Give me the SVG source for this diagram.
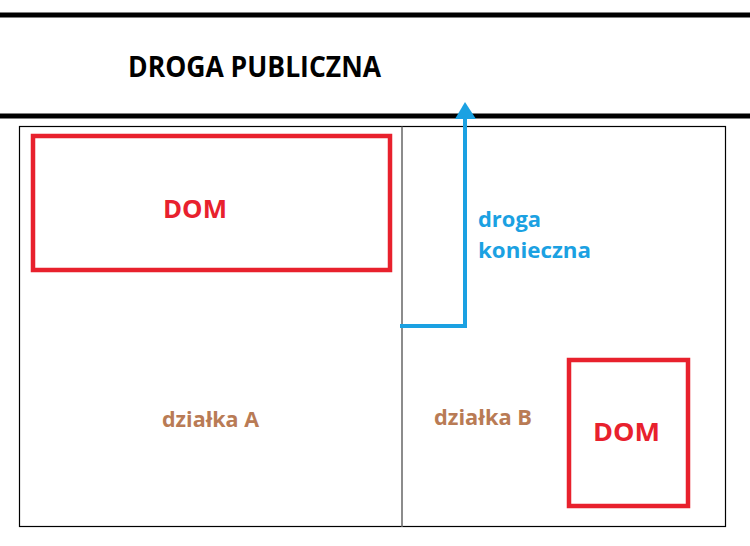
<svg xmlns="http://www.w3.org/2000/svg" width="750" height="546" viewBox="0 0 750 546">
<style>
  text { font-family: "Open Sans", "Liberation Sans", sans-serif; font-weight: bold; }
  .dom { fill: none; stroke: #e8212d; stroke-width: 4.5; }
  .domt { fill: #e8212d; font-size: 25px; }
  .plot { fill: #b97b55; font-size: 21px; }
  .road { stroke: #000; stroke-width: 5; }
  .blue { fill: #1ba1e2; font-size: 22px; }
</style>
<defs>
  <marker id="ah" markerWidth="6" markerHeight="5" refX="0.5" refY="2.5" orient="auto" markerUnits="strokeWidth">
    <path d="M0,0 L5,2.5 L0,5 Z" fill="#1ba1e2"/>
  </marker>
</defs>
<rect width="750" height="546" fill="#fff"/>
<g id="road">
  <line class="road" x1="0" y1="15" x2="750" y2="15" stroke-width="4.5"/>
  <line class="road" x1="0" y1="116" x2="750" y2="116"/>
  <text x="128" y="77" font-size="28" fill="#000" textLength="253" lengthAdjust="spacingAndGlyphs">DROGA PUBLICZNA</text>
</g>
<g id="plots">
  <rect x="19.5" y="126.5" width="706" height="400" fill="none" stroke="#000" stroke-width="1.2"/>
  <line x1="402" y1="126.5" x2="402" y2="527" stroke="#666" stroke-width="1.5"/>
</g>
<g id="plotA">
  <text class="plot" x="162" y="427" textLength="97" lengthAdjust="spacingAndGlyphs">działka A</text>
</g>
<g id="plotB">
  <text class="plot" x="434" y="425" textLength="98" lengthAdjust="spacingAndGlyphs">działka B</text>
</g>
<g id="domA">
  <rect class="dom" x="33" y="136" width="357" height="134"/>
  <text class="domt" x="163" y="218" textLength="64" lengthAdjust="spacingAndGlyphs">DOM</text>
</g>
<g id="domB">
  <rect class="dom" x="569" y="360" width="119" height="146"/>
  <text class="domt" x="593" y="441" textLength="67" lengthAdjust="spacingAndGlyphs">DOM</text>
</g>
<g id="connectors">
  <polyline points="400,326 465,326 465,119" fill="none" stroke="#1ba1e2" stroke-width="4"/>
  <polygon points="465,102 455,119 476,119" fill="#1ba1e2"/>
</g>
<g id="label-droga">
  <text class="blue" x="478" y="227" textLength="63" lengthAdjust="spacingAndGlyphs">droga</text>
  <text class="blue" x="478" y="258" textLength="113" lengthAdjust="spacingAndGlyphs">konieczna</text>
</g>
</svg>
